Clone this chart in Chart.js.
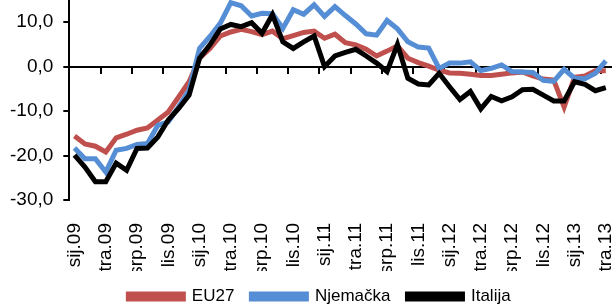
<!DOCTYPE html>
<html>
<head>
<meta charset="utf-8">
<script src="https://cdn.jsdelivr.net/npm/chart.js@4/dist/chart.umd.min.js"></script>
<style>
  html, body { margin: 0; padding: 0; background: #fff; }
  #graf { display: block; }
</style>
</head>
<body>
<canvas id="graf" width="616" height="307"></canvas>
<script>
// mjeseci sij.09 - tra.13
const mjeseci = ['sij', 'velj', 'ožu', 'tra', 'svi', 'lip', 'srp', 'kol', 'ruj', 'lis', 'stu', 'pro'];
const godine = ['09', '10', '11', '12', '13'];
const brojMjeseci = 52;
const kategorije = [];
for (let i = 0; i < brojMjeseci; i++) {
  kategorije.push(mjeseci[i % 12] + '.' + godine[Math.floor(i / 12)]);
}

const eu27 = [-15.6, -17.4, -17.9, -19.2, -16.0, -15.2, -14.3, -13.8, -12.0, -10.2, -6.8, -3.4,
  1.9, 4.1, 6.9, 7.8, 8.4, 7.9, 7.2, 8.0, 6.3, 7.0, 7.7, 8.0,
  6.4, 7.3, 5.4, 4.9, 3.9, 2.4, 3.5, 4.7, 1.9, 0.9, 0.1, -0.8,
  -1.4, -1.5, -1.7, -2.0, -2.0, -1.7, -1.4, -1.2, -2.1, -2.8, -3.0, -9.1,
  -2.4, -2.1, -0.9, -0.9];

const njemacka = [-18.3, -20.7, -20.7, -23.7, -18.8, -18.4, -17.5, -17.3, -13.2, -12.4, -9.0, -5.3,
  4.1, 6.8, 9.8, 14.4, 13.7, 11.4, 12.0, 11.9, 8.6, 12.8, 11.8, 13.9,
  11.3, 13.5, 11.5, 9.6, 7.4, 7.1, 10.4, 8.5, 5.6, 4.4, 4.2, -0.4,
  0.8, 0.8, 1.1, -0.9, -0.4, 0.4, -1.1, -1.2, -1.3, -3.1, -3.3, -0.6,
  -2.6, -2.7, -1.5, 1.3];

const italija = [-19.9, -22.6, -25.9, -25.9, -21.7, -23.3, -18.4, -18.3, -15.8, -12.0, -9.4, -6.4,
  1.9, 4.9, 8.5, 9.5, 9.0, 9.9, 7.5, 11.7, 5.6, 4.1, 5.6, 6.9,
  0.0, 2.4, 3.2, 3.9, 2.4, 0.8, -1.1, 5.0, -2.6, -3.9, -4.1, -1.5,
  -4.5, -7.4, -5.6, -9.5, -6.7, -7.7, -6.8, -5.2, -5.1, -6.4, -7.7, -7.7,
  -3.4, -4.0, -5.4, -4.7];

const yTicks = [-30, -20, -10, 0, 10];

const font = { family: 'Liberation Sans, Arial, sans-serif', size: 19 };
const fontLegenda = { family: 'Liberation Sans, Arial, sans-serif', size: 17 };

// legenda je u originalu malo desno od sredine
const pomakLegende = {
  id: 'pomakLegende',
  afterLayout(chart) {
    chart.legend.left += 14;
    chart.legend.right += 14;
  }
};

const ctx = document.getElementById('graf').getContext('2d');
new Chart(ctx, {
  type: 'line',
  data: {
    labels: kategorije,
    datasets: [
      { label: 'EU27', data: eu27, borderColor: '#c0504d', backgroundColor: '#c0504d', order: 3 },
      { label: 'Njemačka', data: njemacka, borderColor: '#558ed5', backgroundColor: '#558ed5', order: 2 },
      { label: 'Italija', data: italija, borderColor: '#000000', backgroundColor: '#000000', order: 1 }
    ]
  },
  options: {
    responsive: false,
    animation: false,
    datasets: { line: { borderWidth: 5, pointRadius: 0, tension: 0, xAxisID: 'x' } },
    layout: { padding: { left: 0, right: 5, top: 0, bottom: 0 } },
    scales: {
      y: {
        min: -30,
        max: 15,
        afterBuildTicks: (axis) => { axis.ticks = yTicks.map(v => ({ value: v })); },
        afterFit: (s) => { s.paddingTop = 0; s.paddingBottom = 0; },
        ticks: {
          color: '#000',
          font: font,
          padding: 10,
          callback: (v) => v.toFixed(1).replace('.', ',')
        },
        grid: { drawOnChartArea: false, drawTicks: true, tickLength: 6, color: '#000', lineWidth: 2 },
        border: { color: '#000', width: 2 }
      },
      x: {
        type: 'category',
        offset: true,
        position: { y: 0 },
        afterFit: (s) => { s.height = 0; s.paddingLeft = 0; s.paddingRight = 0; },
        ticks: { display: false },
        grid: {
          offset: true,
          drawOnChartArea: false,
          drawTicks: true,
          tickLength: 6,
          lineWidth: 2,
          color: (c) => (c.index % 3 === 0 ? '#000' : 'rgba(0,0,0,0)')
        },
        border: { color: '#000', width: 2 }
      },
      x2: {
        type: 'category',
        offset: true,
        position: 'bottom',
        afterFit: (s) => { s.height = 71; s.paddingLeft = 0; s.paddingRight = 0; },
        grid: { display: false },
        border: { display: false },
        ticks: {
          autoSkip: false,
          minRotation: 90,
          maxRotation: 90,
          padding: 15,
          color: '#000',
          font: font,
          callback: function (v, i) { return i % 3 === 0 ? this.getLabelForValue(v) : ''; }
        }
      }
    },
    plugins: {
      tooltip: { enabled: false },
      legend: {
        position: 'bottom',
        maxHeight: 36,
        labels: {
          boxWidth: 55,
          boxHeight: 5,
          padding: 17,
          color: '#000',
          font: fontLegenda,
          sort: (a, b) => a.datasetIndex - b.datasetIndex
        }
      }
    }
  },
  plugins: [pomakLegende]
});
</script>
</body>
</html>
